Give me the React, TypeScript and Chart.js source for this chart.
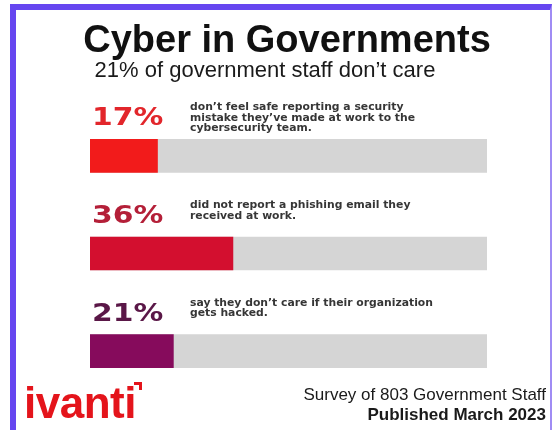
import React, { useEffect, useRef } from 'react';
import { Chart, registerables } from 'chart.js';

Chart.register(...registerables);

const CATEGORIES = ['Unsafe reporting', 'Phishing unreported', "Don't care"];
const VALUE_LABELS = ['17%', '36%', '21%'];
const VALUES = [17, 36, 21];
const TRACK = [100, 100, 100];
const DESCRIPTIONS = [
  ['don\u2019t feel safe reporting a security', 'mistake they\u2019ve made at work to the', 'cybersecurity team.'],
  ['did not report a phishing email they', 'received at work.'],
  ['say they don\u2019t care if their organization', 'gets hacked.'],
];
const BAR_COLORS = ['#f21b1b', '#d30f2f', '#860b5c'];
const LABEL_COLORS = ['#e2262b', '#b41f38', '#5a1747'];
const TRACK_COLOR = '#d5d5d5';

const TITLE = 'Cyber in Governments';
const SUBTITLE = '21% of government staff don\u2019t care';
const FOOTER_1 = 'Survey of 803 Government Staff';
const FOOTER_2 = 'Published March 2023';
const BRAND = 'ivanti';

const labelPlugin = {
  id: 'barLabels',
  afterDatasetsDraw(chart: any) {
    const ctx = chart.ctx;
    const meta = chart.getDatasetMeta(0);
    const left = chart.chartArea.left;
    meta.data.forEach((bar: any, i: number) => {
      const top = bar.y - bar.height / 2;
      ctx.save();
      ctx.fillStyle = LABEL_COLORS[i];
      ctx.font = 'bold 24px "DejaVu Sans"';
      ctx.textBaseline = 'alphabetic';
      ctx.textAlign = 'left';
      ctx.translate(left + 2, top - 14);
      ctx.scale(1.24, 1);
      ctx.fillText(VALUE_LABELS[i], 0, 0);
      ctx.restore();

      ctx.save();
      ctx.fillStyle = '#363636';
      ctx.font = 'bold 10px "DejaVu Sans"';
      ctx.textBaseline = 'middle';
      ctx.textAlign = 'left';
      DESCRIPTIONS[i].forEach((line, j) => {
        ctx.save();
        ctx.translate(left + 100, top - 31.5 + j * 10.5);
        ctx.scale(1.08, 1);
        ctx.fillText(line, 0, 0);
        ctx.restore();
      });
      ctx.restore();
    });
  },
};

export default function App() {
  const canvasRef = useRef<HTMLCanvasElement | null>(null);

  useEffect(() => {
    if (!canvasRef.current) return;
    const chart = new Chart(canvasRef.current, {
      type: 'bar',
      data: {
        labels: CATEGORIES,
        datasets: [
          {
            data: VALUES,
            backgroundColor: BAR_COLORS,
            borderWidth: 0,
            grouped: false,
            barThickness: 33,
          } as any,
          {
            data: TRACK,
            backgroundColor: TRACK_COLOR,
            borderWidth: 0,
            grouped: false,
            barThickness: 33,
          } as any,
        ],
      },
      options: {
        indexAxis: 'y',
        responsive: false,
        animation: false,
        devicePixelRatio: 1,
        layout: { padding: { left: 90, right: 65, top: 107, bottom: 30 } },
        scales: {
          x: { min: 0, max: 100, display: false },
          y: { display: false },
        },
        plugins: {
          legend: { display: false },
          tooltip: { enabled: false },
          title: { display: false },
        },
      },
      plugins: [labelPlugin],
    });
    return () => chart.destroy();
  }, []);

  const font = '"Liberation Sans", Arial, sans-serif';

  return (
    <div
      style={{
        position: 'fixed',
        left: 0,
        top: 0,
        width: 552,
        height: 430,
        overflow: 'hidden',
        background: '#ffffff',
        fontFamily: font,
      }}
    >
      <div
        style={{
          position: 'absolute',
          left: 10,
          top: 4,
          width: 542,
          height: 460,
          boxSizing: 'border-box',
          borderLeft: '6px solid #6646f0',
          borderTop: '6px solid #6646f0',
          borderRight: '2px solid #a08cf4',
        }}
      />
      <canvas
        ref={canvasRef}
        width={552}
        height={430}
        style={{ position: 'absolute', left: 0, top: 0, width: 552, height: 430 }}
      />
      <div
        style={{
          position: 'absolute',
          left: 37,
          width: 500,
          top: 20,
          textAlign: 'center',
          fontSize: 38,
          lineHeight: '38px',
          fontWeight: 'bold',
          color: '#111',
          whiteSpace: 'nowrap',
        }}
      >
        {TITLE}
      </div>
      <div
        style={{
          position: 'absolute',
          left: 15,
          width: 500,
          top: 58.5,
          textAlign: 'center',
          fontSize: 22,
          lineHeight: '22px',
          color: '#1a1a1a',
          whiteSpace: 'nowrap',
        }}
      >
        {SUBTITLE}
      </div>
      <div
        style={{
          position: 'absolute',
          left: 24,
          top: 381,
          fontSize: 44,
          lineHeight: '44px',
          fontWeight: 'bold',
          color: '#e4141b',
          letterSpacing: -0.5,
          whiteSpace: 'nowrap',
        }}
      >
        {BRAND}
      </div>
      <div
        style={{
          position: 'absolute',
          left: 134,
          top: 382,
          width: 5,
          height: 5,
          borderTop: '3px solid #e4141b',
          borderRight: '3px solid #e4141b',
        }}
      />
      <div
        style={{
          position: 'absolute',
          right: 6,
          top: 385.6,
          fontSize: 17,
          lineHeight: '17px',
          color: '#1a1a1a',
          textAlign: 'right',
          whiteSpace: 'nowrap',
        }}
      >
        {FOOTER_1}
      </div>
      <div
        style={{
          position: 'absolute',
          right: 6,
          top: 405.6,
          fontSize: 17,
          lineHeight: '17px',
          fontWeight: 'bold',
          color: '#1a1a1a',
          textAlign: 'right',
          whiteSpace: 'nowrap',
        }}
      >
        {FOOTER_2}
      </div>
    </div>
  );
}
